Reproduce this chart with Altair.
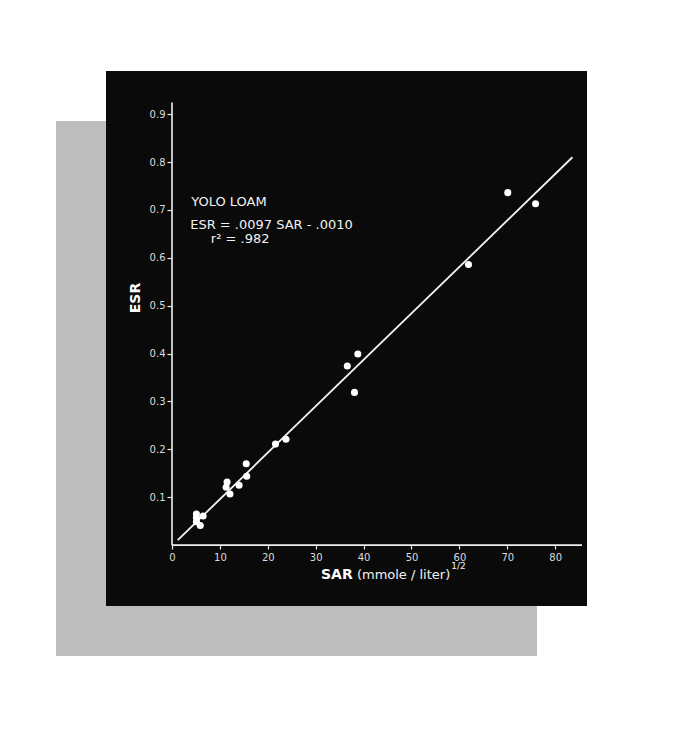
import altair as alt
import pandas as pd

# ---- data ----
sar = [5.1, 6.5, 5.1, 5.9, 5.1, 12.1, 11.3, 11.5, 14.0, 15.6, 15.5,
       21.6, 23.8, 38.1, 36.6, 38.8, 61.9, 70.1, 75.9]
esr = [0.065, 0.061, 0.049, 0.041, 0.057, 0.107, 0.121, 0.132, 0.125, 0.144, 0.170,
       0.211, 0.221, 0.319, 0.374, 0.399, 0.586, 0.736, 0.713]

fit_slope = 0.0097
fit_intercept = -0.0010
fit_sar_range = [1.2, 83.6]

x_ticks = [0, 10, 20, 30, 40, 50, 60, 70, 80]
y_ticks = [0.1, 0.2, 0.3, 0.4, 0.5, 0.6, 0.7, 0.8, 0.9]
x_axis_end = 85.6
y_axis_end = 0.924

note_text = ["YOLO LOAM", "ESR = .0097 SAR - .0010", "r\u00b2 = .982"]
note_sar = [4.0, 3.8, 8.1]
note_esr = [0.708, 0.660, 0.630]

x_title_parts = ["SAR", "(mmole / liter)", "1/2"]
x_title_sar = [31.1, 38.6, 58.3]
x_title_esr = [-0.071, -0.071, -0.050]

# ---- tables ----
pts = pd.DataFrame({"SAR": sar, "ESR": esr})
fit = pd.DataFrame({"SAR": fit_sar_range,
                    "ESR": [fit_slope * s + fit_intercept for s in fit_sar_range]})
notes = pd.DataFrame({"t": note_text, "SAR": note_sar, "ESR": note_esr})
xaxis_line = pd.DataFrame({"x": [0], "x2": [x_axis_end], "y": [0]})
yaxis_line = pd.DataFrame({"x": [0], "y": [0], "y2": [y_axis_end]})
dummy = pd.DataFrame({"d": [0]})
xt = pd.DataFrame({"t": x_title_parts, "SAR": x_title_sar, "ESR": x_title_esr})

W, H = 481, 535
FONT = "DejaVu Sans"

xs = alt.Scale(domain=[-13.78, 86.64], nice=False, zero=False)
ys = alt.Scale(domain=[-0.127, 0.990], nice=False, zero=False)

x_axis = alt.Axis(values=x_ticks, offset=-61, domain=False, grid=False, title=None,
                  tickColor="#e8e8e8", tickSize=4, tickWidth=1.2,
                  labelColor="#dcdcdc", labelFontSize=10, labelFont=FONT,
                  labelPadding=3, format="d")
y_axis = alt.Axis(values=y_ticks, offset=-66, domain=False, grid=False, title=None,
                  tickColor="#e8e8e8", tickSize=5, tickWidth=1.2,
                  labelColor="#dcdcdc", labelFontSize=10, labelFont=FONT,
                  labelPadding=2, format=".1f")

# shadow bands (decoration of the photographed card)
shadow_left = alt.Chart(dummy).mark_rect(color="#bdbdbd").encode(
    x=alt.value(-50), x2=alt.value(0), y=alt.value(50), y2=alt.value(H + 50))
shadow_bottom = alt.Chart(dummy).mark_rect(color="#bdbdbd").encode(
    x=alt.value(-50), x2=alt.value(W - 50), y=alt.value(H), y2=alt.value(H + 50))

xline = alt.Chart(xaxis_line).mark_rule(color="#f0f0f0", strokeWidth=1.6).encode(
    x=alt.X("x:Q", scale=xs, axis=x_axis), x2="x2:Q",
    y=alt.Y("y:Q", scale=ys, axis=y_axis))
yline = alt.Chart(yaxis_line).mark_rule(color="#f0f0f0", strokeWidth=1.6).encode(
    x=alt.X("x:Q", scale=xs), y=alt.Y("y:Q", scale=ys), y2="y2:Q")

fit_line = alt.Chart(fit).mark_line(color="#f4f4f4", strokeWidth=1.8).encode(
    x=alt.X("SAR:Q", scale=xs), y=alt.Y("ESR:Q", scale=ys))

points = alt.Chart(pts).mark_point(filled=True, color="white", opacity=1, size=50).encode(
    x=alt.X("SAR:Q", scale=xs), y=alt.Y("ESR:Q", scale=ys))

note_marks = alt.Chart(notes).mark_text(align="left", baseline="alphabetic", color="#f2f2f2",
                                        font=FONT, fontSize=13).encode(
    x=alt.X("SAR:Q", scale=xs), y=alt.Y("ESR:Q", scale=ys), text="t:N")

ytitle = alt.Chart(pd.DataFrame({"t": ["ESR"], "SAR": [-7.5], "ESR": [0.516]})).mark_text(
    angle=270, align="center", baseline="middle", color="white", font=FONT,
    fontSize=14, fontWeight="bold").encode(
    x=alt.X("SAR:Q", scale=xs), y=alt.Y("ESR:Q", scale=ys), text="t:N")

xtitle_bold = alt.Chart(xt.iloc[[0]]).mark_text(
    align="left", baseline="alphabetic", color="white", font=FONT, fontSize=14,
    fontWeight="bold").encode(x=alt.X("SAR:Q", scale=xs), y=alt.Y("ESR:Q", scale=ys), text="t:N")
xtitle_rest = alt.Chart(xt.iloc[[1]]).mark_text(
    align="left", baseline="alphabetic", color="#f2f2f2", font=FONT, fontSize=13).encode(
    x=alt.X("SAR:Q", scale=xs), y=alt.Y("ESR:Q", scale=ys), text="t:N")
xtitle_sup = alt.Chart(xt.iloc[[2]]).mark_text(
    align="left", baseline="alphabetic", color="#f2f2f2", font=FONT, fontSize=9).encode(
    x=alt.X("SAR:Q", scale=xs), y=alt.Y("ESR:Q", scale=ys), text="t:N")

chart = alt.layer(
    shadow_left, shadow_bottom, xline, yline, fit_line, points, note_marks,
    ytitle, xtitle_bold, xtitle_rest, xtitle_sup
).properties(
    width=W, height=H,
    autosize=alt.AutoSizeParams(type="none"),
    padding={"left": 98, "top": 63, "right": 20, "bottom": 70},
).configure(background="white").configure_view(fill="#0a0a0a", stroke=None)

chart.save("out.html", embed_options={"renderer": "svg", "actions": False})
